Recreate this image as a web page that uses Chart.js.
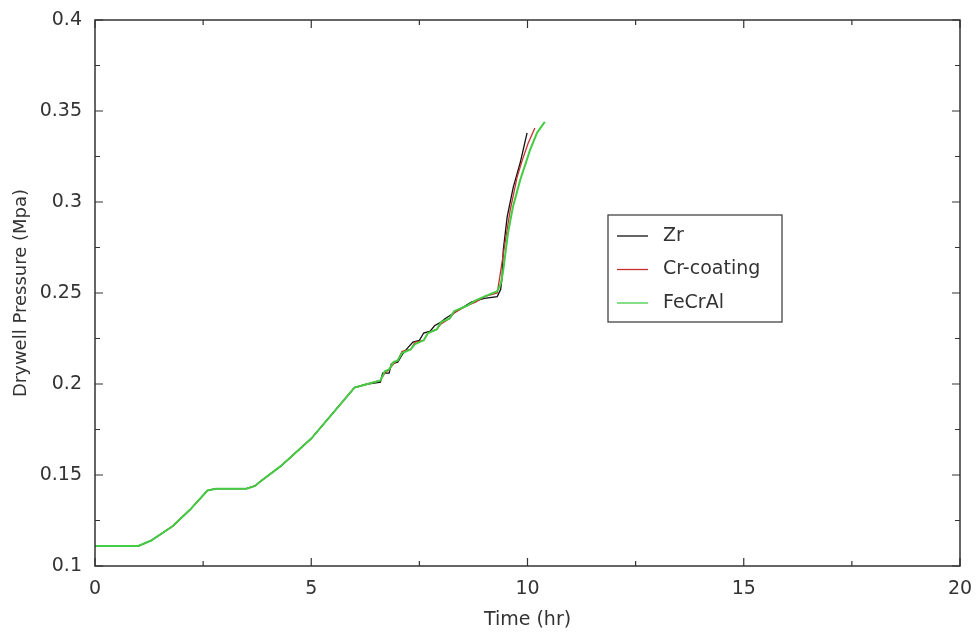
<!DOCTYPE html>
<html>
<head>
<meta charset="utf-8">
<script src="https://cdn.jsdelivr.net/npm/chart.js@4/dist/chart.umd.min.js"></script>
<style>
  html, body { margin: 0; padding: 0; background: #fff; }
  #wrap { width: 977px; height: 637px; position: relative; }
</style>
</head>
<body>
<div id="wrap"><canvas id="c" width="977" height="637"></canvas></div>
<script>
// ---- Data ----
const seriesLabels = ["Zr", "Cr-coating", "FeCrAl"];

const timeZr = [0, 1.0, 1.3, 1.8, 2.2, 2.6, 2.8, 3.5, 3.7, 3.8, 4.3, 5.0, 5.5, 6.0, 6.3, 6.6, 6.65, 6.8, 6.85, 7.0, 7.1, 7.2, 7.35, 7.5, 7.6, 7.75, 7.85, 8.0, 8.1, 8.3, 8.5, 8.7, 9.0, 9.3, 9.38, 9.41, 9.44, 9.53, 9.67, 9.83, 9.99];
const pressureZr = [0.111, 0.111, 0.114, 0.122, 0.131, 0.1415, 0.1425, 0.1425, 0.144, 0.146, 0.155, 0.170, 0.184, 0.198, 0.200, 0.201, 0.206, 0.206, 0.211, 0.212, 0.216, 0.219, 0.223, 0.224, 0.228, 0.229, 0.232, 0.234, 0.236, 0.239, 0.242, 0.245, 0.247, 0.248, 0.252, 0.258, 0.2736, 0.2918, 0.308, 0.3214, 0.338];

const timeCr = [0, 1.0, 1.3, 1.8, 2.2, 2.6, 2.8, 3.5, 3.7, 3.8, 4.3, 5.0, 5.5, 6.0, 6.3, 6.6, 6.7, 6.8, 6.9, 7.0, 7.1, 7.3, 7.4, 7.6, 7.7, 7.9, 8.0, 8.2, 8.3, 8.6, 8.8, 9.0, 9.3, 9.38, 9.48, 9.6, 9.76, 9.88, 10.01, 10.17];
const pressureCr = [0.111, 0.111, 0.114, 0.122, 0.131, 0.1415, 0.1425, 0.1425, 0.144, 0.146, 0.155, 0.170, 0.184, 0.198, 0.200, 0.202, 0.206, 0.208, 0.211, 0.213, 0.218, 0.219, 0.223, 0.224, 0.228, 0.230, 0.233, 0.236, 0.239, 0.243, 0.245, 0.248, 0.250, 0.262, 0.2775, 0.2956, 0.3137, 0.323, 0.332, 0.3407];

const timeFe = [0, 1.0, 1.3, 1.8, 2.2, 2.6, 2.8, 3.5, 3.7, 3.8, 4.3, 5.0, 5.5, 6.0, 6.3, 6.6, 6.7, 6.8, 6.9, 7.0, 7.1, 7.3, 7.4, 7.6, 7.7, 7.9, 8.0, 8.2, 8.3, 8.6, 8.8, 9.0, 9.3, 9.38, 9.43, 9.55, 9.66, 9.83, 10.06, 10.22, 10.4];
const pressureFe = [0.111, 0.111, 0.114, 0.122, 0.131, 0.1415, 0.1425, 0.1425, 0.144, 0.146, 0.155, 0.170, 0.184, 0.198, 0.200, 0.202, 0.207, 0.208, 0.212, 0.213, 0.217, 0.219, 0.222, 0.224, 0.228, 0.230, 0.234, 0.236, 0.240, 0.243, 0.246, 0.248, 0.251, 0.255, 0.261, 0.283, 0.297, 0.312, 0.3286, 0.338, 0.344];

const xTicks = [0, 5, 10, 15, 20];
const yTicks = [0.1, 0.15, 0.2, 0.25, 0.3, 0.35, 0.4];
const xMinorTicks = [2.5, 7.5, 12.5, 17.5];
const yMinorTicks = [0.125, 0.175, 0.225, 0.275, 0.325, 0.375];

const colors = ["#111111", "#c83030", "#44cc44"];

function toPoints(xs, ys) { return xs.map((x, i) => ({ x: x, y: ys[i] })); }

const FONT = "'DejaVu Sans', Verdana, sans-serif";
const TEXT = "#333333";

// Box + inward ticks
const framePlugin = {
  id: 'frame',
  afterDatasetsDraw(chart) {
    const { ctx, chartArea: a, scales } = chart;
    const xs = scales.x, ys = scales.y;
    ctx.save();
    ctx.strokeStyle = "#333333";
    ctx.lineWidth = 1.5;
    ctx.strokeRect(a.left, a.top, a.right - a.left, a.bottom - a.top);
    ctx.lineWidth = 1.2;
    ctx.beginPath();
    const tick = (vals, len) => {
      vals.forEach(v => {
        const px = xs.getPixelForValue(v);
        ctx.moveTo(px, a.bottom); ctx.lineTo(px, a.bottom - len);
        ctx.moveTo(px, a.top); ctx.lineTo(px, a.top + len);
      });
    };
    const ytick = (vals, len) => {
      vals.forEach(v => {
        const py = ys.getPixelForValue(v);
        ctx.moveTo(a.left, py); ctx.lineTo(a.left + len, py);
        ctx.moveTo(a.right, py); ctx.lineTo(a.right - len, py);
      });
    };
    tick(xTicks, 8); tick(xMinorTicks, 5);
    ytick(yTicks, 8); ytick(yMinorTicks, 5);
    ctx.stroke();
    ctx.restore();
  }
};

// Legend box inside the plot
const legendPlugin = {
  id: 'boxLegend',
  afterDraw(chart) {
    const { ctx, chartArea: a } = chart;
    const bx = a.left + 513, by = a.top + 195, bw = 174, bh = 107;
    ctx.save();
    ctx.fillStyle = "#ffffff";
    ctx.fillRect(bx, by, bw, bh);
    ctx.strokeStyle = "#444444";
    ctx.lineWidth = 1.3;
    ctx.strokeRect(bx, by, bw, bh);
    ctx.font = "19px " + FONT;
    ctx.textBaseline = "middle";
    ctx.fillStyle = TEXT;
    chart.data.datasets.forEach((ds, i) => {
      const cy = by + 21 + i * 33.5;
      ctx.strokeStyle = ds.borderColor;
      ctx.lineWidth = 1.3;
      ctx.beginPath();
      ctx.moveTo(bx + 9, cy); ctx.lineTo(bx + 40, cy);
      ctx.stroke();
      ctx.fillStyle = TEXT;
      ctx.fillText(ds.label, bx + 55, cy);
    });
    ctx.restore();
  }
};

new Chart(document.getElementById('c'), {
  type: 'scatter',
  data: {
    datasets: [
      { label: seriesLabels[0], data: toPoints(timeZr, pressureZr), borderColor: colors[0], borderWidth: 1.3, showLine: true, pointRadius: 0, order: 2 },
      { label: seriesLabels[1], data: toPoints(timeCr, pressureCr), borderColor: colors[1], borderWidth: 1.3, showLine: true, pointRadius: 0, order: 1 },
      { label: seriesLabels[2], data: toPoints(timeFe, pressureFe), borderColor: colors[2], borderWidth: 2, showLine: true, pointRadius: 0, order: 0 }
    ]
  },
  options: {
    responsive: false,
    animation: false,
    layout: { padding: { top: 20, right: 17, left: 0, bottom: 0 } },
    plugins: { legend: { display: false }, tooltip: { enabled: false } },
    scales: {
      x: {
        type: 'linear', min: 0, max: 20,
        afterBuildTicks: s => { s.ticks = xTicks.map(v => ({ value: v })); },
        afterFit: s => { s.height = 71; },
        grid: { display: false },
        border: { display: false },
        ticks: { padding: 4, color: TEXT, font: { family: FONT, size: 19 }, maxRotation: 0, callback: v => String(v) },
        title: { display: true, text: 'Time (hr)', color: TEXT, font: { family: FONT, size: 19 }, padding: { top: 0, bottom: 6 } }
      },
      y: {
        type: 'linear', min: 0.1, max: 0.4,
        afterBuildTicks: s => { s.ticks = yTicks.map(v => ({ value: v })); },
        afterFit: s => { s.width = 95; },
        grid: { display: false },
        border: { display: false },
        ticks: { padding: 5, color: TEXT, font: { family: FONT, size: 19 }, callback: v => String(parseFloat(v.toFixed(3))) },
        title: { display: true, text: 'Drywell Pressure (Mpa)', color: TEXT, font: { family: FONT, size: 18 }, padding: { top: 11, bottom: 0 } }
      }
    }
  },
  plugins: [framePlugin, legendPlugin]
});
</script>
</body>
</html>
